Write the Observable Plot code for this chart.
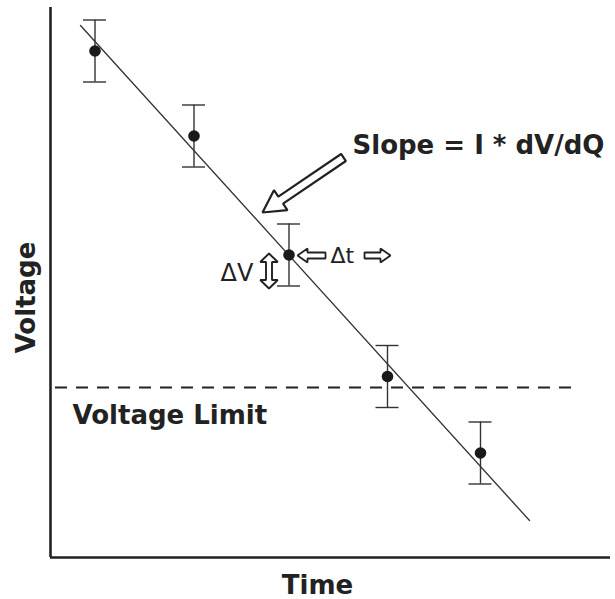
<!DOCTYPE html>
<html>
<head>
<meta charset="utf-8">
<script src="https://cdn.jsdelivr.net/npm/d3@7"></script>
<script src="https://cdn.jsdelivr.net/npm/@observablehq/plot@0.6"></script>
<style>
  body { margin: 0; background: #fff; }
</style>
</head>
<body>
<div id="chart"></div>
<script>
// Measured voltage at each sample time, with its uncertainty
const times = [8.9, 28.7, 47.7, 67.4, 86.0];
const voltages = [101.3, 84.3, 60.5, 36.2, 20.9];
const errors = [6.2, 6.2, 6.2, 6.2, 6.2];

// Least-squares fit through the samples (end points)
const fitTimes = [6.0, 95.8];
const fitVoltages = [106.4, 7.4];

// Cut-off voltage, drawn across the plot
const limitVoltage = 34;
const limitSpan = [1, 104.4];

// Text annotations
const labels = ["Slope = I * dV/dQ", "Voltage Limit"];
const labelTimes = [60.4, 4.4];
const labelVoltages = [80.8, 26.8];

const deltaLabels = ["ΔV", "Δt"];
const deltaTimes = [34.0, 56.0];
const deltaVoltages = [55.4, 59.0];
const deltaSizes = [24, 22];

// Hollow arrows: [tailTime, tailVoltage, tipTime, tipVoltage]
const slopeArrow = [58.6, 80.0, 42.4, 69.0];
const dVArrow = [43.7, 60.8, 43.7, 53.8];
const dtArrows = [[55.0, 60.4, 49.4, 60.4], [62.8, 60.4, 68.0, 60.4]];

const samples = times.map((t, i) => ({t, v: voltages[i], e: errors[i]}));
const fit = fitTimes.map((t, i) => ({t, v: fitVoltages[i]}));

// Outline of a hollow arrow from (x0,y0) to (x1,y1); both axes share one
// pixel-per-unit ratio, so the outline keeps its shape on screen.
function arrowOutline([x0, y0, x1, y1], shaft, head, len, both = false) {
  const dx = x1 - x0, dy = y1 - y0, L = Math.hypot(dx, dy);
  const ux = dx / L, uy = dy / L, px = -uy, py = ux;
  const P = (s, w) => [x0 + ux * s + px * w, y0 + uy * s + py * w];
  if (!both) {
    return [P(0, shaft), P(L - len, shaft), P(L - len, head), P(L, 0),
            P(L - len, -head), P(L - len, -shaft), P(0, -shaft)];
  }
  return [P(0, 0), P(len, head), P(len, shaft), P(L - len, shaft), P(L - len, head),
          P(L, 0), P(L - len, -head), P(L - len, -shaft), P(len, -shaft), P(len, -head)];
}

const arrowShapes = [
  {pts: arrowOutline(slopeArrow, 0.85, 2.4, 4.4), w: 2.2},
  {pts: arrowOutline(dVArrow, 0.6, 1.75, 1.7, true), w: 1.9},
  ...dtArrows.map(a => ({pts: arrowOutline(a, 0.6, 1.4, 2.0), w: 1.8}))
];

const capHalf = 2.3;
const ink = "#222";
const boldFont = {fontFamily: "DejaVu Sans", fontWeight: "bold", fontSize: 26, fill: ink};

const chart = Plot.plot({
  width: 615,
  height: 599,
  marginLeft: 50,
  marginRight: 5,
  marginTop: 7,
  marginBottom: 42,
  x: {domain: [0, 112], axis: null},
  y: {domain: [0, 110], axis: null},
  style: {fontFamily: "DejaVu Sans", background: "#fff"},
  marks: [
    // axes frame
    Plot.ruleX([0], {stroke: ink, strokeWidth: 2.6}),
    Plot.ruleY([0], {stroke: ink, strokeWidth: 2.6}),
    // voltage limit
    Plot.ruleY([limitVoltage], {x1: limitSpan[0], x2: limitSpan[1], stroke: ink, strokeWidth: 2, strokeDasharray: "12,9"}),
    // fitted line
    Plot.line(fit, {x: "t", y: "v", stroke: "#333", strokeWidth: 1.3}),
    // error bars with caps
    Plot.ruleX(samples, {x: "t", y1: d => d.v - d.e, y2: d => d.v + d.e, stroke: "#333", strokeWidth: 1.4}),
    Plot.ruleY(samples, {y: d => d.v + d.e, x1: d => d.t - capHalf, x2: d => d.t + capHalf, stroke: "#333", strokeWidth: 1.4}),
    Plot.ruleY(samples, {y: d => d.v - d.e, x1: d => d.t - capHalf, x2: d => d.t + capHalf, stroke: "#333", strokeWidth: 1.4}),
    Plot.dot(samples, {x: "t", y: "v", r: 5.8, fill: "#1a1a1a", stroke: "none"}),
    // hollow arrows
    ...arrowShapes.map(a => Plot.line(a.pts, {x: d => d[0], y: d => d[1], curve: "linear-closed", fill: "#fff", stroke: ink, strokeWidth: a.w, strokeLinejoin: "miter"})),
    // labels
    Plot.text(labels, {x: (d, i) => labelTimes[i], y: (d, i) => labelVoltages[i], text: d => d, textAnchor: "start", lineAnchor: "bottom", ...boldFont}),
    Plot.text(deltaLabels, {x: (d, i) => deltaTimes[i], y: (d, i) => deltaVoltages[i], text: d => d, textAnchor: "start", lineAnchor: "bottom", fontFamily: "DejaVu Sans", fontSize: (d, i) => deltaSizes[i], fill: ink}),
    // axis titles
    Plot.text(["Time"], {x: 53.4, y: -7.2, text: d => d, textAnchor: "middle", lineAnchor: "bottom", ...boldFont}),
    Plot.text(["Voltage"], {x: -3.2, y: 52, text: d => d, rotate: -90, textAnchor: "middle", lineAnchor: "bottom", ...boldFont})
  ]
});

document.getElementById("chart").appendChild(chart);
</script>
</body>
</html>
